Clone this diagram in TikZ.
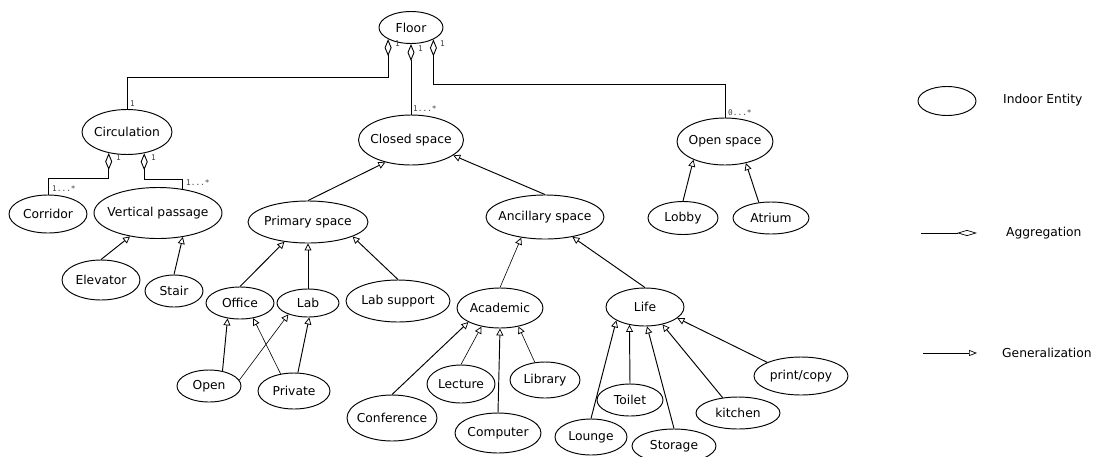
\documentclass[tikz,border=0pt]{standalone}
\usepackage{fontspec}
\setmainfont{DejaVu Sans}
\newfontfamily\multfont{DejaVu Sans Mono}
\usetikzlibrary{shapes.geometric,arrows.meta}
\newcommand{\elltext}[1]{\makebox[0pt]{#1}}
\begin{document}
\begin{tikzpicture}[x=1pt,y=-1pt,
  ent/.style={ellipse, draw, line width=0.95pt, inner sep=0pt, font=\fontsize{12.3}{14}\selectfont},
  gen/.style={line width=0.95pt, -{Triangle[open,length=7pt,width=7pt,line width=0.75pt]}},
  genthin/.style={gen, line width=0.6pt},
  agg/.style={line width=1pt, -{Diamond[open,length=17pt,width=7pt,line width=0.9pt]}},
  mult/.style={font=\multfont\fontsize{7.8}{8}\selectfont, text=black!75, inner sep=0pt, anchor=west},
  legtext/.style={font=\fontsize{12.3}{14}\selectfont, inner sep=0pt, anchor=west}]
\fill[white] (0,0) rectangle (1093,456);
\useasboundingbox (0,0) rectangle (1093,456);

% entities
\node[ent,minimum width=64pt,minimum height=32pt] (floor) at (411,27.5) {\elltext{Floor}};
\node[ent,minimum width=90pt,minimum height=45pt] (circ) at (127,132) {\elltext{Circulation}};
\node[ent,minimum width=105pt,minimum height=50pt] (closed) at (411,140) {\elltext{Closed space}};
\node[ent,minimum width=96pt,minimum height=47pt] (openspace) at (725,141.5) {\elltext{Open space}};
\node[ent,minimum width=78pt,minimum height=38pt] (corr) at (48,214) {\elltext{Corridor}};
\node[ent,minimum width=128pt,minimum height=51pt] (vp) at (158,213) {\elltext{Vertical passage}};
\node[ent,minimum width=78pt,minimum height=40pt] (elev) at (101,280) {\elltext{Elevator}};
\node[ent,minimum width=58pt,minimum height=32pt] (stair) at (174,291) {\elltext{Stair}};
\node[ent,minimum width=120pt,minimum height=42pt] (prim) at (308,222) {\elltext{Primary space}};
\node[ent,minimum width=68pt,minimum height=32pt] (office) at (240,303) {\elltext{Office}};
\node[ent,minimum width=62pt,minimum height=28pt] (lab) at (308,303) {\elltext{Lab}};
\node[ent,minimum width=104pt,minimum height=42pt] (labsup) at (398,301) {\elltext{Lab support}};
\node[ent,minimum width=64pt,minimum height=32pt] (openn) at (209,386) {\elltext{Open}};
\node[ent,minimum width=72pt,minimum height=36pt] (private) at (294,391) {\elltext{Private}};
\node[ent,minimum width=118pt,minimum height=44pt] (anc) at (545,217) {\elltext{Ancillary space}};
\node[ent,minimum width=86pt,minimum height=40pt] (acad) at (500,308) {\elltext{Academic}};
\node[ent,minimum width=78pt,minimum height=38pt] (life) at (645,307) {\elltext{Life}};
\node[ent,minimum width=70pt,minimum height=33pt] (lobby) at (683,218) {\elltext{Lobby}};
\node[ent,minimum width=76pt,minimum height=32pt] (atrium) at (771,218) {\elltext{Atrium}};
\node[ent,minimum width=68pt,minimum height=38pt] (lecture) at (461,384) {\elltext{Lecture}};
\node[ent,minimum width=70pt,minimum height=36pt] (library) at (545,380) {\elltext{Library}};
\node[ent,minimum width=90pt,minimum height=46pt] (conf) at (392,418) {\elltext{Conference}};
\node[ent,minimum width=86pt,minimum height=40pt] (comp) at (498,433) {\elltext{Computer}};
\node[ent,minimum width=66pt,minimum height=32pt] (toilet) at (630,400) {\elltext{Toilet}};
\node[ent,minimum width=72pt,minimum height=36pt] (lounge) at (591,437) {\elltext{Lounge}};
\node[ent,minimum width=84pt,minimum height=34pt] (storage) at (674,446) {\elltext{Storage}};
\node[ent,minimum width=84pt,minimum height=32pt] (kitchen) at (738,413) {\elltext{kitchen}};
\node[ent,minimum width=94pt,minimum height=38pt] (printc) at (801,376) {\elltext{print/copy}};

% aggregations
\draw[agg] (circ.north) -- ++(0,-32) -| (floor.207);
\draw[agg] (closed.north) -- (floor.south);
\draw[agg] (openspace.north) -- ++(0,-33) -| (floor.332);
\draw[agg] (corr.north) -- ++(0,-16) -| (circ.229);
\draw[agg] (vp.44) -- ++(0,-10) -| (circ.309);

% generalizations
\draw[gen] (elev.north) -- (vp.220);
\draw[gen] (stair.north) -- (vp.-44);
\draw[gen] (prim.north) -- (closed.221);
\draw[gen] (anc.north) -- (closed.340);
\draw[gen] (office.north) -- (prim.220);
\draw[gen] (lab.north) -- (prim.south);
\draw[gen] (labsup.north) -- (prim.-18);
\draw[gen] (openn.48) -- (office.231);
\draw[genthin] (openn.11) -- (lab.210);
\draw[genthin] (private.128) -- (office.311);
\draw[gen] (private.78) -- (lab.275);
\draw[genthin] (acad.north) -- (anc.221);
\draw[gen] (life.north) -- (anc.324);
\draw[gen] (lobby.north) -- (openspace.210);
\draw[gen] (atrium.128) -- (openspace.314);
\draw[gen] (conf.north) -- (acad.204);
\draw[genthin] (lecture.north) -- (acad.225);
\draw[gen] (comp.north) -- (acad.south);
\draw[genthin] (library.120) -- (acad.315);
\draw[gen] (lounge.north) -- (life.205);
\draw[gen] (toilet.north) -- (life.229);
\draw[gen] (storage.north) -- (life.276);
\draw[gen] (kitchen.135) -- (life.315);
\draw[gen] (printc.158) -- (life.341);

% multiplicities
\node[mult] (m1) at (395,44) {1};
\node[mult] (m2) at (418,49) {1};
\node[mult] (m3) at (440,44) {1};
\node[mult] (m4) at (130,104) {1};
\node[mult] (m5) at (413,109) {1...*};
\node[mult] (m6) at (728,113) {0...*};
\node[mult] (m7) at (116,158) {1};
\node[mult] (m8) at (151,158) {1};
\node[mult] (m9) at (186,183) {1...*};
\node[mult] (m10) at (52,189) {1...*};

% legend
\node[ent,minimum width=58pt,minimum height=29pt] (legell) at (947,101) {};
\node[legtext] (legent) at (1003,100) {Indoor Entity};
\coordinate (aggA) at (921,233);
\coordinate (aggB) at (977,233);
\draw[line width=0.7pt, -{Diamond[open,length=20pt,width=6pt,line width=0.7pt]}] (aggA) -- (aggB);
\node[legtext] (legagg) at (1006,233) {Aggregation};
\coordinate (genA) at (923,353);
\coordinate (genB) at (977,353);
\draw[line width=0.7pt, -{Triangle[open,length=8pt,width=6pt,line width=0.7pt]}] (genA) -- (genB);
\node[legtext] (leggen) at (1002,353) {Generalization};
\end{tikzpicture}
\end{document}
